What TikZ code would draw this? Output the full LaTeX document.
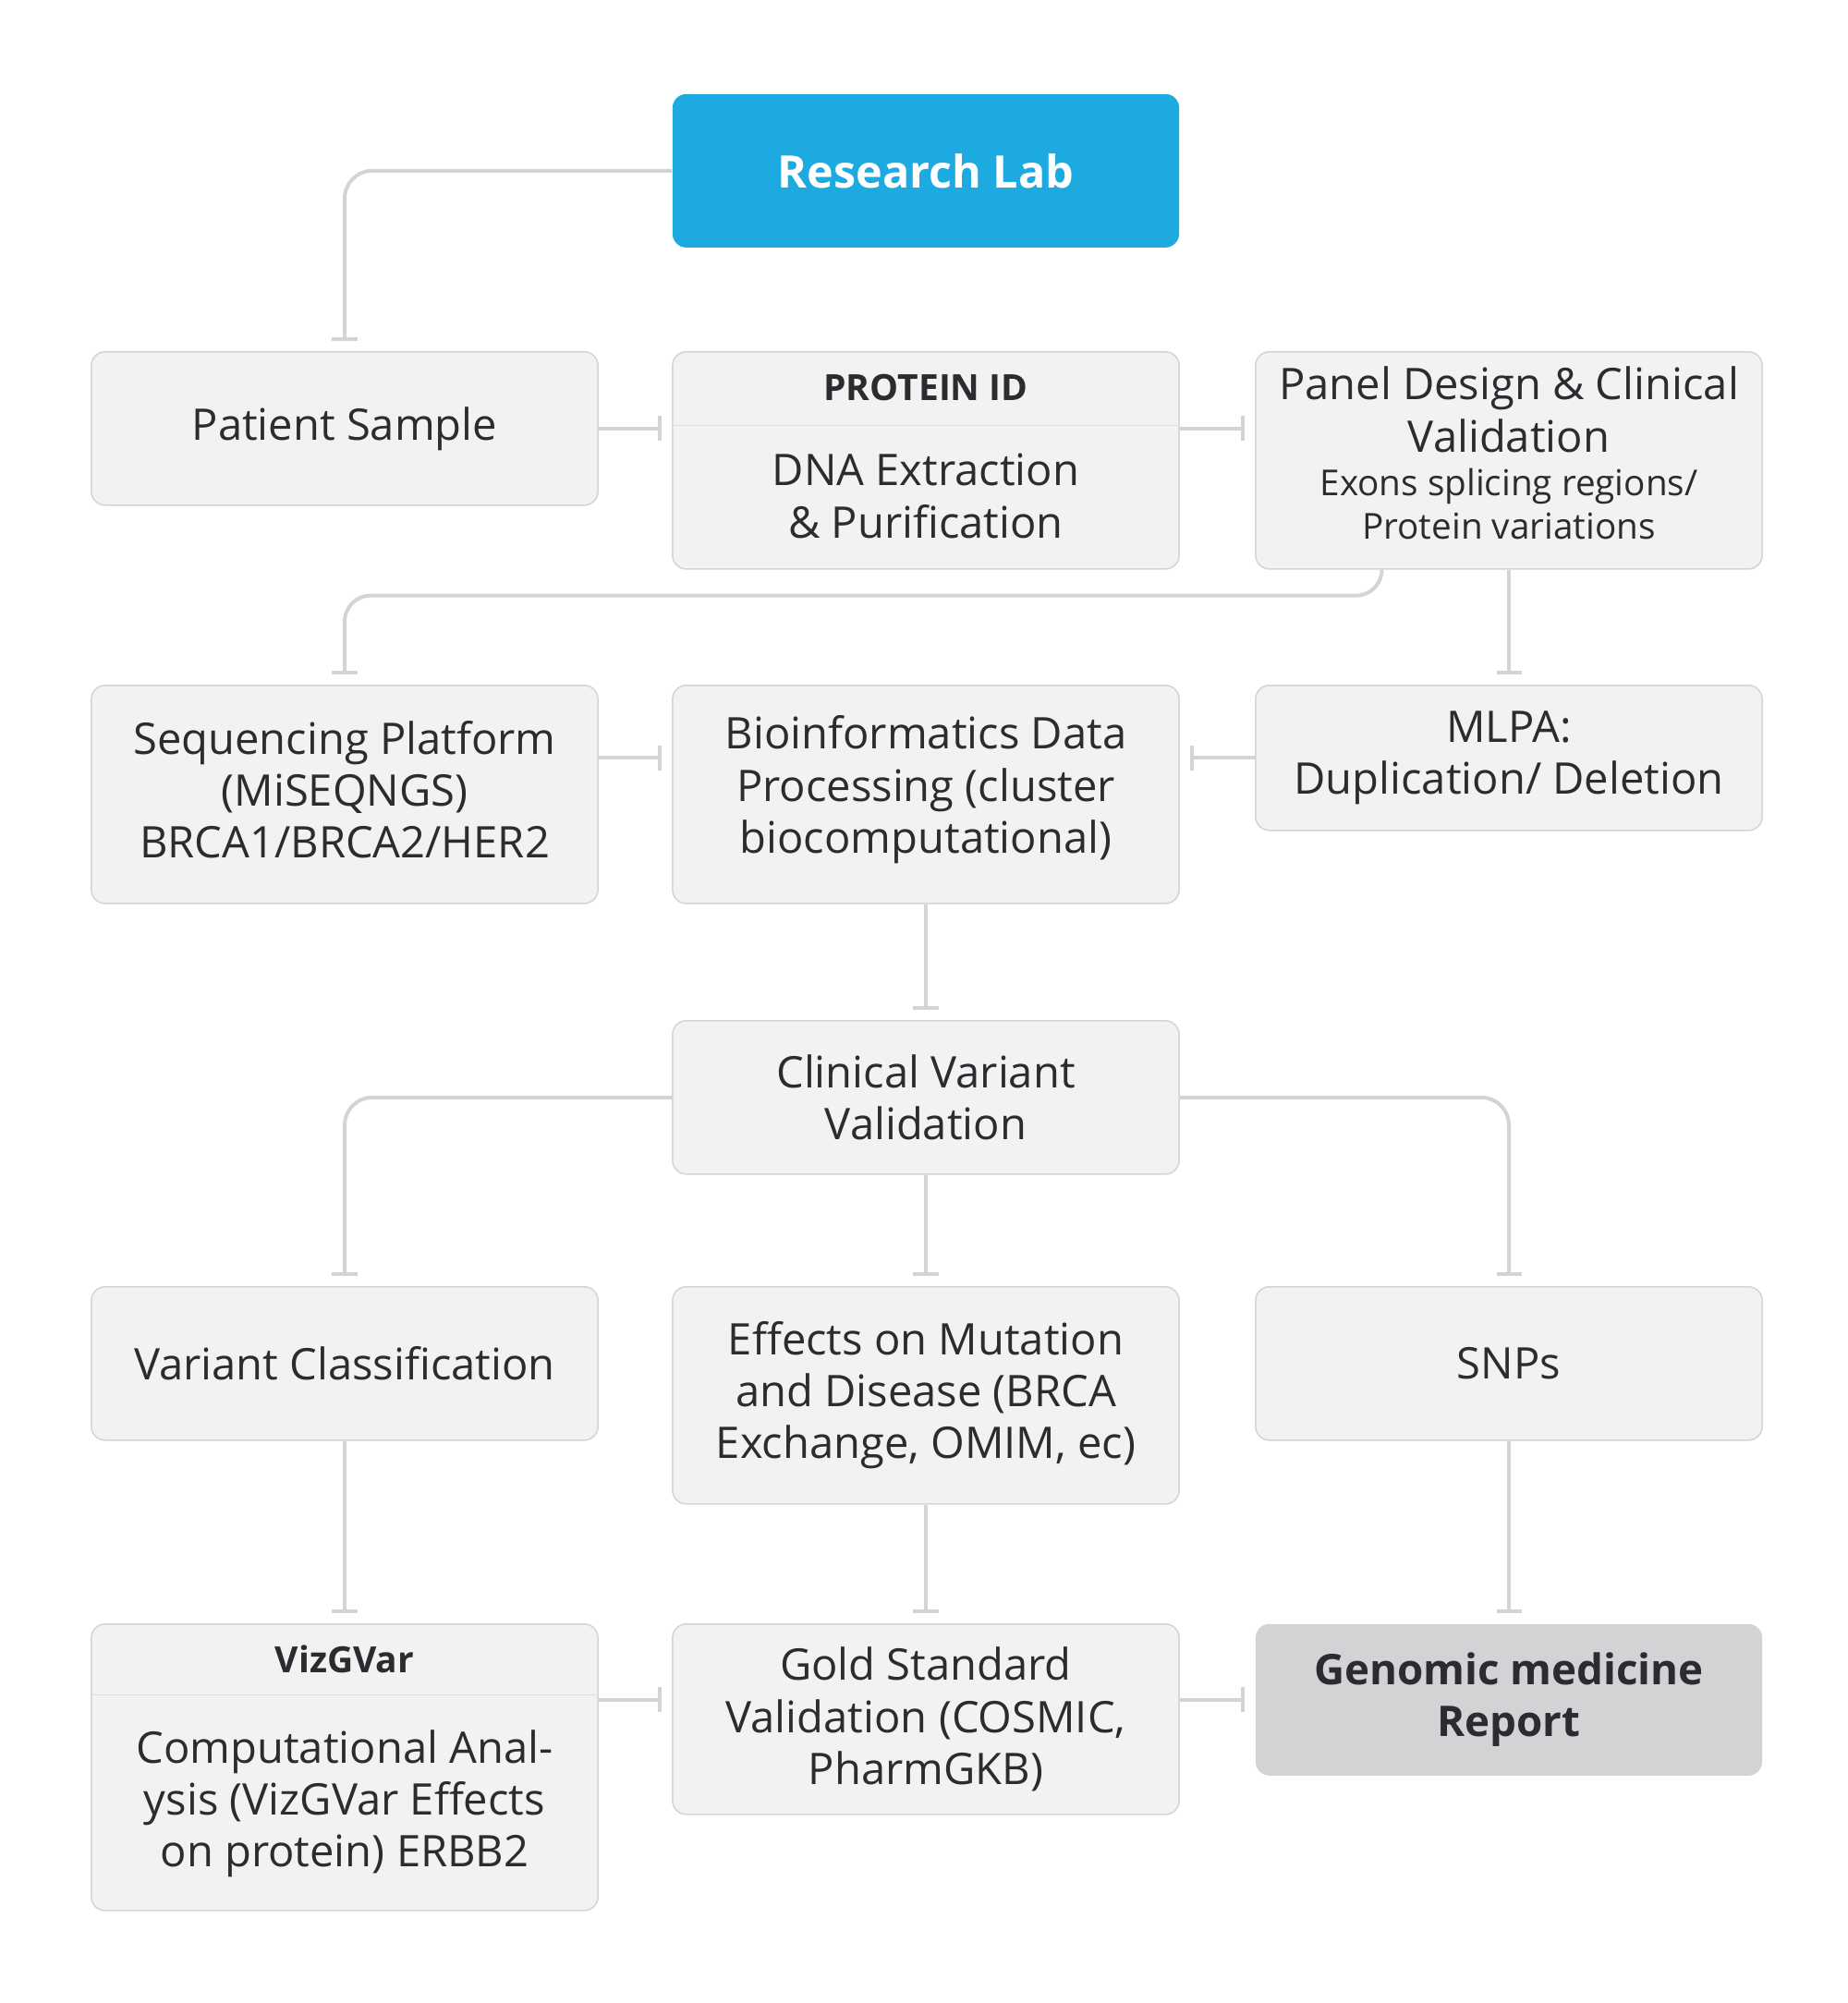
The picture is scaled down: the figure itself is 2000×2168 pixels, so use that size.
\documentclass[tikz,border=0pt]{standalone}
\usepackage{fontspec}
\setmainfont{Open Sans}
\usetikzlibrary{calc, arrows.meta}
\definecolor{labblue}{RGB}{28,170,224}
\definecolor{boxgray}{RGB}{242,242,242}
\definecolor{linegray}{RGB}{212,212,214}
\definecolor{reportgray}{RGB}{210,211,213}
\definecolor{textdark}{RGB}{43,43,48}
\newcommand{\maintxt}{\fontsize{13.4pt}{16pt}\selectfont}
\newcommand{\smalltxt}{\fontsize{11pt}{13.4pt}\selectfont}
\newcommand{\headtxt}{\fontsize{11.1pt}{13pt}\selectfont\bfseries}
\tikzset{
  box/.style={draw=linegray, fill=boxgray, line width=0.015cm, rounded corners=0.15cm,
    minimum width=5.48cm, minimum height=1.66cm, inner sep=0, anchor=north,
    align=flush center, text=textdark, font=\maintxt},
  wide/.style={text width=5.4cm},
  lab/.style={box, draw=none, fill=labblue, text=white,
    font=\fontsize{13.8pt}{16pt}\selectfont\bfseries},
  report/.style={box, draw=none, fill=reportgray,
    font=\fontsize{13pt}{16pt}\selectfont\bfseries},
  head/.style={inner sep=0, text=textdark, font=\headtxt},
  txt/.style={inner sep=0, align=flush center, text=textdark, font=\maintxt},
  divider/.style={draw=linegray!80, line width=0.01cm},
  link/.style={draw=linegray, line width=0.04cm, shorten >=0.11cm}
}
\begin{document}
\begin{tikzpicture}[x=0.01cm, y=-0.01cm, >={Bar[width=0.27cm, line width=0.04cm]}]
\useasboundingbox (0,0) rectangle (2000,2168);

\node[lab] (lab) at (1002,101) {Research Lab};

\node[box] (patient) at (373,380) {Patient Sample};
\node[box, minimum height=2.35cm] (protein) at (1002,380) {};
\node[head] (proteinhead) at ($(protein.north)+(0,40)$) {PROTEIN ID};
\draw[divider] ($(protein.north west)+(0,80)$) -- ($(protein.north east)+(0,80)$);
\node[txt] (extraction) at ($(protein.north)+(0,157)$) {DNA Extraction\\\& Purification};
\node[box, wide, minimum height=2.35cm] (panel) at (1633,380)
  {Panel Design \& Clinical\\Validation\par{\smalltxt Exons splicing regions/\\Protein variations\par}\vspace{0.16cm}};

\node[box, wide, minimum height=2.36cm] (sequencing) at (373,741) {Sequencing Platform\\(MiSEQNGS)\\BRCA1/BRCA2/HER2\par\vspace{0.1cm}};
\node[box, wide, minimum height=2.36cm] (bioinfo) at (1002,741) {Bioinformatics Data\\Processing (cluster\\biocomputational)\par\vspace{0.1cm}};
\node[box, minimum height=1.57cm] (mlpa) at (1633,741) {MLPA:\\Duplication/ Deletion};

\node[box] (clinical) at (1002,1104) {Clinical Variant\\Validation};

\node[box] (classification) at (373,1392) {Variant Classification};
\node[box, minimum height=2.35cm] (effects) at (1002,1392) {Effects on Mutation\\and Disease (BRCA\\Exchange, OMIM, ec)};
\node[box] (snps) at (1633,1392) {SNPs};

\node[box, minimum height=3.10cm] (vizgvar) at (373,1757) {};
\node[head] (vizgvarhead) at ($(vizgvar.north)+(0,39)$) {VizGVar};
\draw[divider] ($(vizgvar.north west)+(0,77)$) -- ($(vizgvar.north east)+(0,77)$);
\node[txt] (analysis) at ($(vizgvar.north)+(0,195)$) {Computational Anal-\\ysis (VizGVar Effects\\on protein) ERBB2};
\node[box, minimum height=2.06cm] (gold) at (1002,1757) {Gold Standard\\Validation (COSMIC,\\PharmGKB)};
\node[report, minimum height=1.64cm] (report) at (1633,1757) {Genomic medicine\\Report};

% connectors
\draw[link, ->, rounded corners=0.3cm] (lab.west) -| (patient.north);
\draw[link, ->] (patient.east) -- (patient.east -| protein.west);
\draw[link, ->] (patient.east -| protein.east) -- (patient.east -| panel.west);
\draw[link, ->, rounded corners=0.28cm] ($(panel.south west)!0.25!(panel.south east)$) -- ++(0,28) -| (sequencing.north);
\draw[link, ->] (panel.south) -- (mlpa.north);
\draw[link, ->] (mlpa.west -| sequencing.east) -- (mlpa.west -| bioinfo.west);
\draw[link, ->] (mlpa.west) -- (mlpa.west -| bioinfo.east);
\draw[link, ->] (bioinfo.south) -- (clinical.north);
\draw[link, ->, rounded corners=0.3cm] (clinical.west) -| (classification.north);
\draw[link, ->] (clinical.south) -- (effects.north);
\draw[link, ->, rounded corners=0.3cm] (clinical.east) -| (snps.north);
\draw[link, ->] (classification.south) -- (vizgvar.north);
\draw[link, ->] (effects.south) -- (gold.north);
\draw[link, ->] (snps.south) -- (report.north);
\draw[link, ->] (report.west -| vizgvar.east) -- (report.west -| gold.west);
\draw[link, ->] (report.west -| gold.east) -- (report.west);

\end{tikzpicture}
\end{document}
